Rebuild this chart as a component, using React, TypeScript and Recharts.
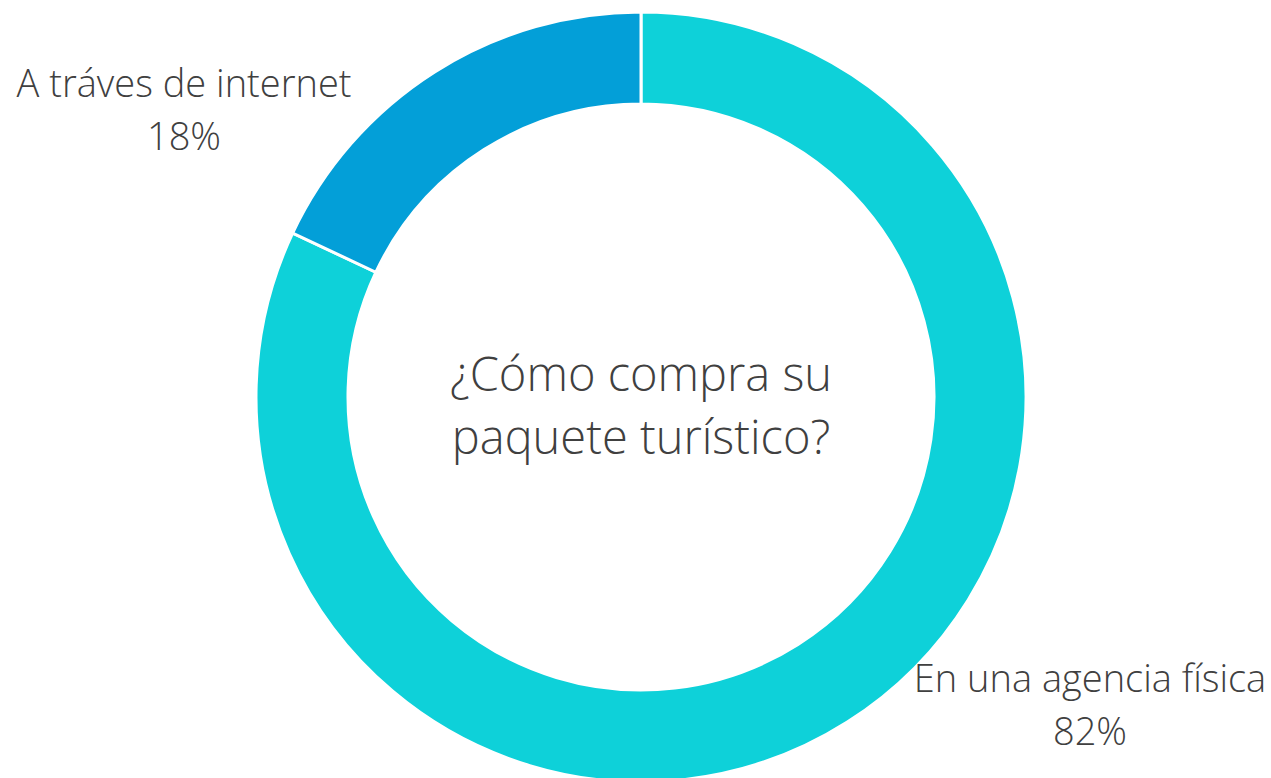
import { PieChart, Pie, Cell } from "recharts";

const categories = ["En una agencia física", "A tráves de internet"];
const percentages = [82, 18];
const COLORS = ["#0ed1d9", "#039fd8"];

const data = categories.map((name, i) => ({ name, value: percentages[i] }));

// label placement relative to the pie centre (first baseline)
const LABEL_OFFSETS = [
  { dx: 449, dy: 295 },
  { dx: -457, dy: -300 },
];

const FONT = "'Open Sans', 'Noto Sans', sans-serif";
const TEXT_COLOR = "#404040";

const renderLabel = (props: any) => {
  const { cx, cy, index, name, value } = props;
  const off = LABEL_OFFSETS[index];
  const x = cx + off.dx;
  const y = cy + off.dy;
  return (
    <text
      x={x}
      y={y}
      textAnchor="middle"
      fill={TEXT_COLOR}
      fontFamily={FONT}
      fontWeight={300}
      fontSize={38}
    >
      <tspan x={x} y={y}>{name}</tspan>
      <tspan x={x} y={y + 53}>{`${value}%`}</tspan>
    </text>
  );
};

export default function App() {
  const cx = 641;
  const cy = 397;
  return (
    <div style={{ width: 1271, height: 778, background: "#fff" }}>
      <style>{`body{margin:0}`}</style>
      <PieChart width={1271} height={778} margin={{ top: 0, right: 0, bottom: 0, left: 0 }}>
        <Pie
          data={data}
          dataKey="value"
          nameKey="name"
          cx={cx}
          cy={cy}
          innerRadius={293}
          outerRadius={385}
          startAngle={90}
          endAngle={-270}
          stroke="#ffffff"
          strokeWidth={3}
          label={renderLabel}
          labelLine={false}
          isAnimationActive={false}
        >
          {data.map((entry, i) => (
            <Cell key={entry.name} fill={COLORS[i]} />
          ))}
        </Pie>
        <text
          x={cx}
          y={cy - 6}
          textAnchor="middle"
          fill={TEXT_COLOR}
          fontFamily={FONT}
          fontWeight={300}
          fontSize={47}
        >
          <tspan x={cx} y={cy - 6}>¿Cómo compra su</tspan>
          <tspan x={cx} y={cy + 57}>paquete turístico?</tspan>
        </text>
      </PieChart>
    </div>
  );
}
